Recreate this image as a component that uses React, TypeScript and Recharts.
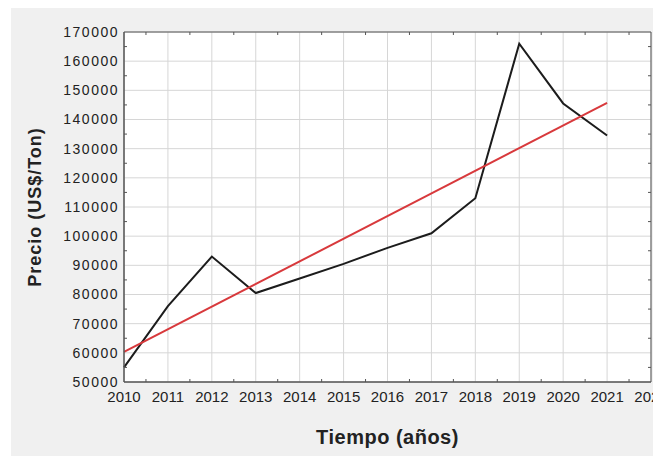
import { CartesianGrid, Label, Line, LineChart, XAxis, YAxis } from "recharts";

// Precio anual (US$/Ton) y recta de tendencia
const years = [2010, 2011, 2012, 2013, 2014, 2015, 2016, 2017, 2018, 2019, 2020, 2021];
const prices = [55000, 76000, 93000, 80500, 85500, 90500, 96000, 101000, 113000, 166000, 145500, 134500];
const trend = [60300, null, null, null, null, null, null, null, null, null, null, 145700];

const xTicks = [2010, 2011, 2012, 2013, 2014, 2015, 2016, 2017, 2018, 2019, 2020, 2021, 2022];
const xMinor = [2010.5, 2011.5, 2012.5, 2013.5, 2014.5, 2015.5, 2016.5, 2017.5, 2018.5, 2019.5, 2020.5, 2021.5];
const yTicks = [50000, 60000, 70000, 80000, 90000, 100000, 110000, 120000, 130000, 140000, 150000, 160000, 170000];
const yMinor = [55000, 65000, 75000, 85000, 95000, 105000, 115000, 125000, 135000, 145000, 155000, 165000];

const data = years.map((year, i) => ({ year, price: prices[i], trend: trend[i] }));

const font = "'Liberation Sans', Arial, sans-serif";
const frame = "#555";
// thin axes that only draw the frame and the small inward minor ticks
const minorAxis = {
  tick: () => <g />,
  tickSize: 3,
  mirror: true,
  interval: 0 as const,
  allowDataOverflow: true,
  axisLine: { stroke: frame },
  tickLine: { stroke: frame },
};

export default function App() {
  return (
    <div style={{ position: "relative", width: 661, height: 456, margin: "-8px 0 0 -8px", background: "#fff" }}>
      <div style={{ position: "absolute", left: 11, top: 5, right: 0, bottom: 0, background: "#f0f0f0" }} />
      <div style={{ position: "absolute", left: 0, top: 0 }}>
        <LineChart
          width={661}
          height={456}
          data={data}
          margin={{ top: 32, right: 10, bottom: 0, left: 0 }}
          style={{ fontFamily: font }}
        >
          <XAxis xAxisId="minorB" dataKey="year" type="number" domain={[2010, 2022]} ticks={xMinor} height={1} {...minorAxis} />
          <XAxis xAxisId="minorT" dataKey="year" orientation="top" type="number" domain={[2010, 2022]} ticks={xMinor} height={1} {...minorAxis} />
          <YAxis yAxisId="minorL" dataKey="price" type="number" domain={[50000, 170000]} ticks={yMinor} width={1} {...minorAxis} />
          <YAxis yAxisId="minorR" dataKey="price" orientation="right" type="number" domain={[50000, 170000]} ticks={yMinor} width={1} {...minorAxis} />
          <XAxis
            xAxisId="main"
            dataKey="year"
            type="number"
            domain={[2010, 2022]}
            ticks={xTicks}
            interval={0}
            height={74}
            tickLine={false}
            tickMargin={3}
            axisLine={{ stroke: frame }}
            tick={{ fill: "#222", fontSize: 15, fontFamily: font }}
          >
            <Label
              value="Tiempo (años)"
              position="insideBottom"
              offset={12}
              style={{ fill: "#222", fontSize: 20, fontWeight: 700, fontFamily: font, letterSpacing: 0.5 }}
            />
          </XAxis>
          <YAxis
            yAxisId="main"
            type="number"
            domain={[50000, 170000]}
            ticks={yTicks}
            interval={0}
            width={124}
            tickLine={false}
            tickMargin={-1}
            axisLine={{ stroke: frame }}
            tick={{ fill: "#222", fontSize: 14, fontFamily: font, letterSpacing: 1.5 }}
          >
            <Label
              value="Precio (US$/Ton)"
              angle={-90}
              position="insideLeft"
              offset={35}
              style={{ textAnchor: "middle", fill: "#222", fontSize: 18, fontWeight: 700, fontFamily: font, letterSpacing: 1 }}
            />
          </YAxis>
          <CartesianGrid xAxisId="main" yAxisId="main" stroke="#d6d6d6" fill="#fff" />
          <Line
            xAxisId="main"
            yAxisId="main"
            type="linear"
            dataKey="price"
            stroke="#1c1c1c"
            strokeWidth={2}
            dot={false}
            isAnimationActive={false}
          />
          <Line
            xAxisId="main"
            yAxisId="main"
            type="linear"
            dataKey="trend"
            stroke="#d8393c"
            strokeWidth={2}
            dot={false}
            connectNulls
            isAnimationActive={false}
          />
        </LineChart>
      </div>
    </div>
  );
}
